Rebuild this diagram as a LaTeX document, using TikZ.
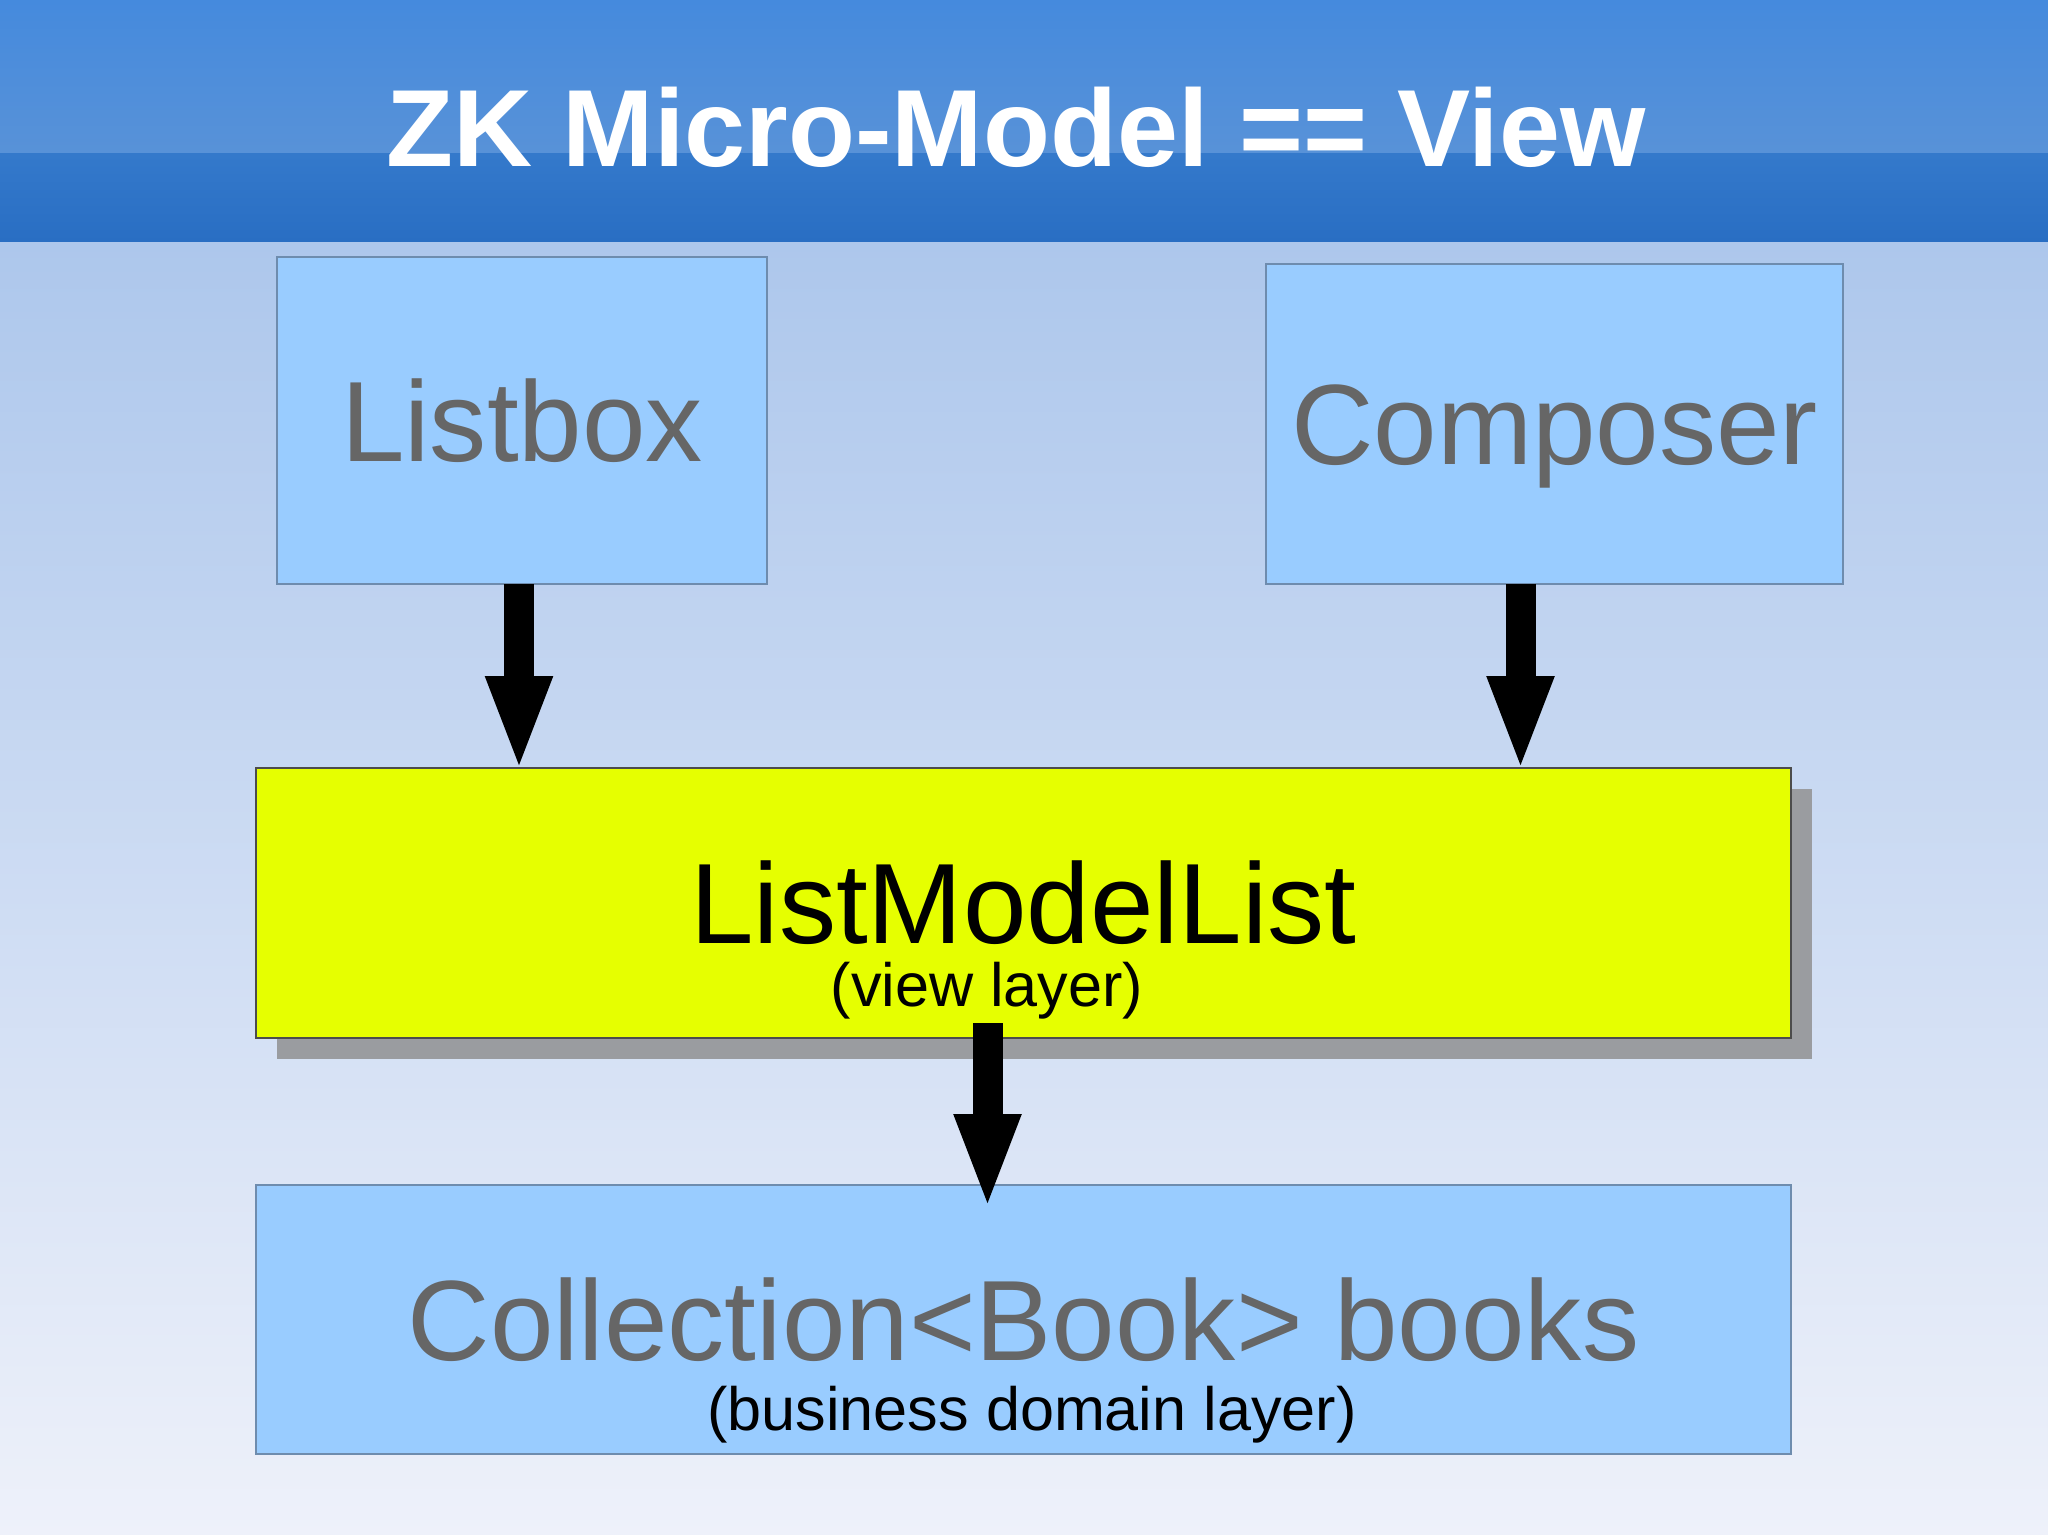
\documentclass[tikz,border=0pt]{standalone}
\usepackage{fontspec}
\setmainfont{Liberation Sans}
\usetikzlibrary{arrows.meta,shadows}

\definecolor{barTop}{HTML}{458ADD}
\definecolor{barMid}{HTML}{5892D8}
\definecolor{bandTop}{HTML}{3479CB}
\definecolor{bandBot}{HTML}{296EC3}
\definecolor{bgTop}{HTML}{ADC7EC}
\definecolor{bgBot}{HTML}{EEF1FA}
\definecolor{boxBlue}{HTML}{99CCFF}
\definecolor{boxEdge}{HTML}{6E8CAE}
\definecolor{lmlYellow}{HTML}{E6FF00}
\definecolor{shadowGray}{HTML}{9A9CA0}
\definecolor{labelGray}{HTML}{666666}

\begin{document}
\begin{tikzpicture}[x=0.1mm, y=-0.1mm]
    % Define styles
    \tikzstyle{box} = [rectangle, inner sep=0pt, outer sep=0pt, line width=0.45pt, align=center,
                       font=\fontsize{32.5pt}{39pt}\selectfont, text height=23.3pt, text depth=0pt]
    \tikzstyle{bluebox} = [box, draw=boxEdge, fill=boxBlue, text=labelGray]
    \tikzstyle{yellowbox} = [box, draw=black!70, fill=lmlYellow, text=black,
                             drop shadow={shadow xshift=2.1mm, shadow yshift=-2.1mm, fill=shadowGray, opacity=1}]
    \tikzstyle{sublabel} = [anchor=base, inner sep=0pt, text=black, font=\fontsize{17.4pt}{21pt}\selectfont]
    \tikzstyle{blockarrow} = [draw=black, line width=3mm, -{Triangle[length=9.6mm, width=6.0mm]}]

    \useasboundingbox (0,0) rectangle (2048,1535);

    % Background and title bar
    \shade[top color=bgTop, bottom color=bgBot] (0,242) rectangle (2048,1535);
    \shade[top color=barTop, bottom color=barMid] (0,0) rectangle (2048,154);
    \shade[top color=bandTop, bottom color=bandBot] (0,154) rectangle (2048,242);
    \node[anchor=base, inner sep=0pt, text=white, font=\fontsize{31.2pt}{38pt}\selectfont\bfseries]
        (title) at (1016,167) {ZK Micro-Model == View};

    % Top row
    \node[bluebox, minimum width=49mm, minimum height=32.7mm] (listbox) at (522,420.5) {Listbox};
    \node[bluebox, minimum width=57.7mm, minimum height=32mm] (composer) at (1554.5,424) {Composer};

    % View layer
    \node[yellowbox, minimum width=153.5mm, minimum height=27mm] (lml) at (1023.5,903) {ListModelList};
    \node[sublabel] (viewsub) at (987,1006) {(view layer)};

    % Business domain layer
    \node[bluebox, minimum width=153.5mm, minimum height=26.9mm] (books) at (1023.5,1319.5) {Collection<Book> books};
    \node[sublabel] (booksub) at (1032,1430) {(business domain layer)};

    % Arrows
    \draw[blockarrow] ([xshift=-0.3mm]listbox.south) -- ([xshift=-0.3mm, yshift=-0.4mm]listbox.south |- lml.north);
    \draw[blockarrow] ([xshift=-3.4mm]composer.south) -- ([xshift=-3.4mm, yshift=-0.4mm]composer.south |- lml.north);
    \draw[blockarrow] ([shift={(-36,-15)}]lml.south) -- ([shift={(-36,25)}]books.north);

\end{tikzpicture}
\end{document}
